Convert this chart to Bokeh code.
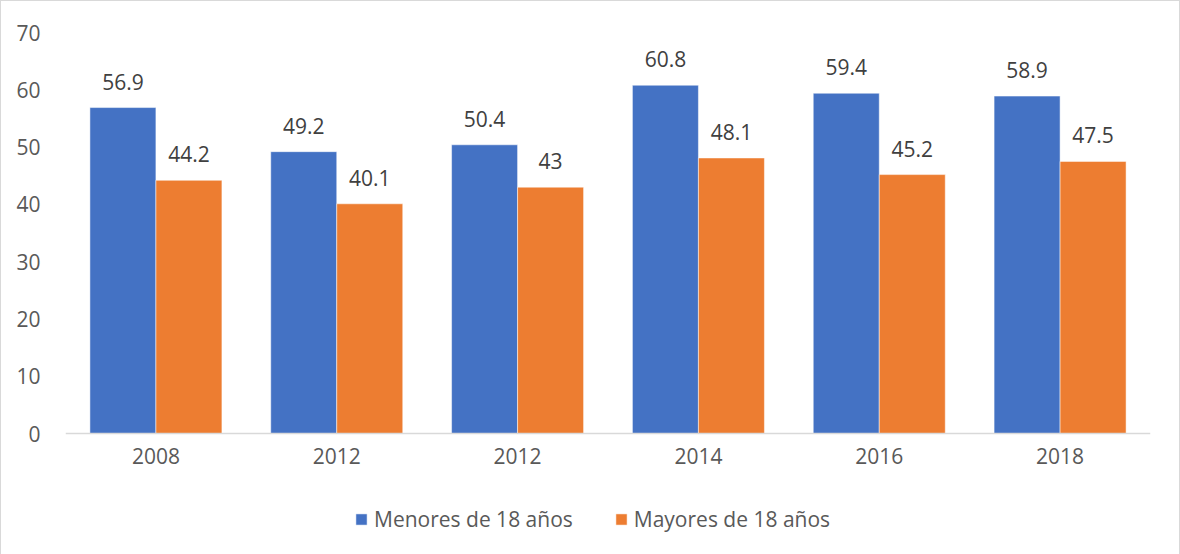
from bokeh.plotting import figure
from bokeh.models import ColumnDataSource, FixedTicker, Legend, LegendItem, Range1d, LinearAxis
from bokeh.core.properties import value
from bokeh.embed import file_html
from bokeh.resources import INLINE

years = ["2008", "2012", "2012", "2014", "2016", "2018"]
menores = [56.9, 49.2, 50.4, 60.8, 59.4, 58.9]
mayores = [44.2, 40.1, 43.0, 48.1, 45.2, 47.5]
menores_labels = ["56.9", "49.2", "50.4", "60.8", "59.4", "58.9"]
mayores_labels = ["44.2", "40.1", "43", "48.1", "45.2", "47.5"]
y_ticks = [0, 10, 20, 30, 40, 50, 60, 70]

BLUE = "#4472C4"
ORANGE = "#ED7D31"
FONT = "Open Sans"
FS = "21px"
W = 0.365

centers = [i + 0.5 for i in range(len(years))]
src_a = ColumnDataSource(dict(x=[c - W / 2 for c in centers], top=menores, lab=menores_labels))
src_b = ColumnDataSource(dict(x=[c + W / 2 for c in centers], top=mayores, lab=mayores_labels))

# frame extends below zero so that the x axis (fixed at 0) and legend sit inside it
p = figure(frame_width=1085, frame_height=512, min_border_left=64, min_border_right=29,
           min_border_top=31, min_border_bottom=11,
           x_range=Range1d(0, len(years)), y_range=Range1d(-19.37, 70),
           x_axis_location=None, output_backend="svg", toolbar_location=None)
p.styles = {"border": "1px solid #d9d9d9", "box-sizing": "border-box"}

r1 = p.vbar(x="x", top="top", width=W, bottom=0, source=src_a, fill_color=BLUE,
            line_color="white", line_width=0.5)
r2 = p.vbar(x="x", top="top", width=W, bottom=0, source=src_b, fill_color=ORANGE,
            line_color="white", line_width=0.5)

for src in (src_a, src_b):
    p.text(x="x", y="top", text="lab", source=src, text_align="center",
           text_baseline="middle", y_offset=-26, text_font=value(FONT),
           text_font_size=FS, text_color="#404040")

p.xgrid.grid_line_color = None
p.ygrid.grid_line_color = None
p.outline_line_color = None

p.yaxis.ticker = FixedTicker(ticks=y_ticks)
p.yaxis.axis_line_color = None
p.yaxis.major_tick_line_color = None
p.yaxis.minor_tick_line_color = None
p.yaxis.major_label_standoff = 19
p.yaxis.major_label_text_font = FONT
p.yaxis.major_label_text_font_size = FS
p.yaxis.major_label_text_color = "#595959"

xax = LinearAxis(fixed_location=0)
xax.ticker = FixedTicker(ticks=centers)
xax.major_label_overrides = {c: y for c, y in zip(centers, years)}
xax.axis_line_color = "#d9d9d9"
xax.axis_line_width = 1.5
xax.major_tick_line_color = None
xax.minor_tick_line_color = None
xax.major_label_standoff = 8
xax.major_label_text_font = FONT
xax.major_label_text_font_size = FS
xax.major_label_text_color = "#595959"
p.add_layout(xax, "below")

legend = Legend(items=[LegendItem(label="Menores de 18 años", renderers=[r1]),
                       LegendItem(label="Mayores de 18 años", renderers=[r2])],
                orientation="horizontal", location=(289, 11),
                border_line_color=None, background_fill_alpha=0,
                label_text_font=FONT, label_text_font_size=FS,
                label_text_color="#595959", glyph_width=14, glyph_height=14,
                label_standoff=6, spacing=41, margin=0, padding=0)
p.add_layout(legend, "center")

open("out.html", "w").write(file_html(p, INLINE))
